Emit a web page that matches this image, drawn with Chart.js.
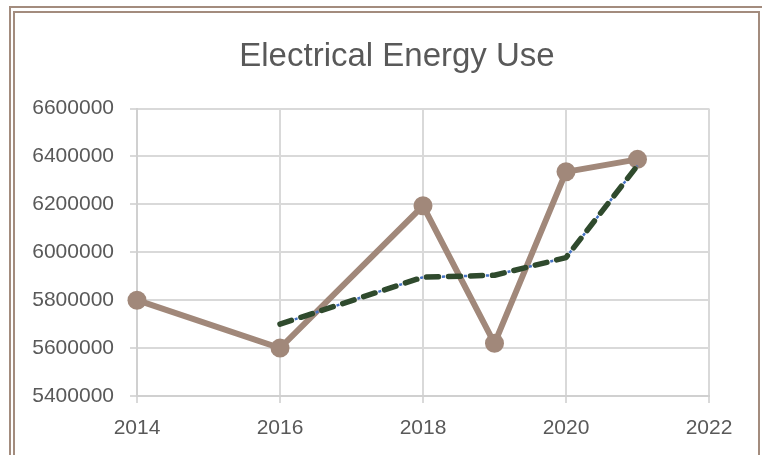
<!DOCTYPE html>
<html>
<head>
<meta charset="utf-8">
<title>Electrical Energy Use</title>
<script src="https://cdn.jsdelivr.net/npm/chart.js@4/dist/chart.umd.min.js"></script>
<style>
  html, body { margin: 0; padding: 0; background: #ffffff; }
  #energy-chart { display: block; }
</style>
</head>
<body>
<canvas id="energy-chart" width="762" height="455"></canvas>
<script>
  const years = [2014, 2016, 2018, 2019, 2020, 2021];
  const energyUse = [5800000, 5600000, 6194000, 5620000, 6336000, 6388000];

  // two-period moving average
  const trendYears = [2016, 2018, 2019, 2020, 2021];
  const trendValues = [5700000, 5896000, 5904000, 5978000, 6362000];

  const xTicks = [2014, 2016, 2018, 2020, 2022];
  const yTicks = [5400000, 5600000, 5800000, 6000000, 6200000, 6400000, 6600000];

  const TEXT = "#595959";
  const GRID = "#d9d9d9";
  const BROWN = "#a1887a";
  const FONT = "'Liberation Sans', Arial, sans-serif";

  function toPoints(xs, ys) {
    return xs.map(function (x, i) {
      return { x: x, y: ys[i] };
    });
  }

  // double brown frame round the chart, and the title nudged right
  const framePlugin = {
    id: "frame",
    afterLayout: function (chart) {
      if (chart.titleBlock) {
        chart.titleBlock.left = 85;
      }
    },
    beforeDraw: function (chart) {
      const ctx = chart.ctx;
      ctx.save();
      ctx.strokeStyle = "#a38c7e";
      ctx.lineWidth = 2;
      ctx.strokeRect(10, 7, 780, 480);
      ctx.strokeRect(14, 12, 745, 470);
      ctx.restore();
    },
  };

  new Chart(document.getElementById("energy-chart"), {
    type: "scatter",
    data: {
      datasets: [
        {
          label: "Energy use",
          data: toPoints(years, energyUse),
          showLine: true,
          clip: false,
          borderColor: BROWN,
          backgroundColor: BROWN,
          borderWidth: 6,
          pointRadius: 9.5,
          pointBorderWidth: 0,
          pointHoverRadius: 9.5,
          order: 3,
        },
        {
          label: "Trend dots",
          data: toPoints(trendYears, trendValues),
          showLine: true,
          clip: false,
          borderColor: "#4472c4",
          borderWidth: 2.5,
          borderDash: [3, 19],
          borderDashOffset: 6.5,
          pointRadius: 0,
          order: 2,
        },
        {
          label: "2 per. Mov. Avg.",
          data: toPoints(trendYears, trendValues),
          showLine: true,
          clip: false,
          borderColor: "#2f4a2d",
          borderWidth: 5.5,
          borderDash: [12, 10],
          borderCapStyle: "round",
          borderJoinStyle: "round",
          pointRadius: 0,
          order: 1,
        },
      ],
    },
    options: {
      responsive: false,
      animation: false,
      layout: {
        padding: { top: 0, left: 0, right: 53, bottom: 0 },
      },
      plugins: {
        legend: { display: false },
        tooltip: { enabled: false },
        title: {
          display: true,
          text: "Electrical Energy Use",
          color: TEXT,
          font: { family: FONT, size: 33, weight: "normal" },
          padding: { top: 37, bottom: 32 },
        },
      },
      scales: {
        x: {
          type: "linear",
          min: 2014,
          max: 2022,
          afterBuildTicks: function (scale) {
            scale.ticks = xTicks.map(function (v) { return { value: v }; });
          },
          afterFit: function (scale) {
            scale.height = 59;
          },
          grid: { color: GRID, lineWidth: 2, tickLength: 7, tickColor: GRID },
          border: { color: "#d0d0d0", width: 2 },
          ticks: {
            color: TEXT,
            padding: 13,
            font: { family: FONT, size: 21 },
            callback: function (value) { return String(value); },
          },
        },
        y: {
          min: 5400000,
          max: 6600000,
          afterBuildTicks: function (scale) {
            scale.ticks = yTicks.map(function (v) { return { value: v }; });
          },
          afterFit: function (scale) {
            scale.width = 137;
          },
          grid: { color: GRID, lineWidth: 2, tickLength: 7, tickColor: GRID },
          border: { color: "#d0d0d0", width: 2 },
          ticks: {
            color: TEXT,
            padding: 16,
            font: { family: FONT, size: 21 },
            callback: function (value) { return String(value); },
          },
        },
      },
    },
    plugins: [framePlugin],
  });
</script>
</body>
</html>
